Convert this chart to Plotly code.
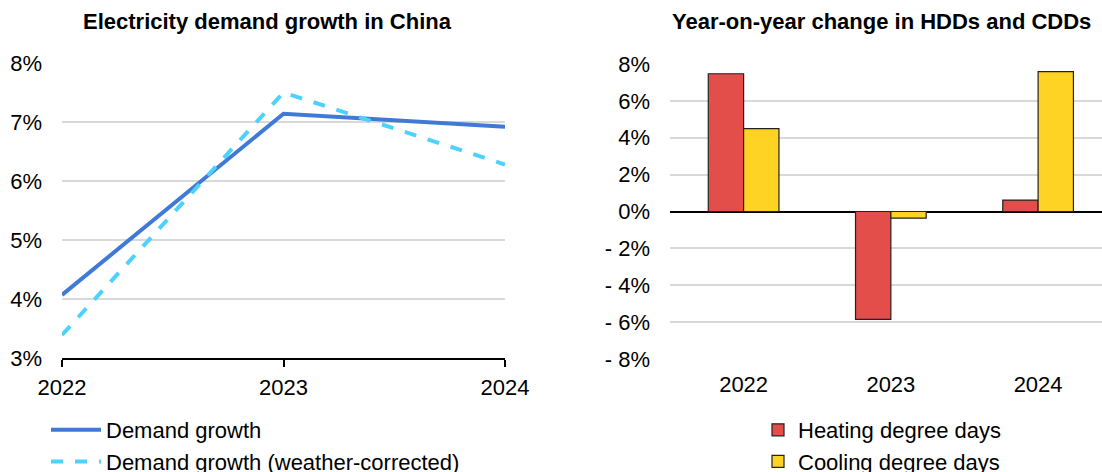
import plotly.graph_objects as go

years = [2022, 2023, 2024]
year_labels = ["2022", "2023", "2024"]
demand_growth = [4.07, 7.14, 6.92]
demand_growth_wc = [3.39, 7.50, 6.28]
hdd_change = [7.47, -5.85, 0.62]
cdd_change = [4.49, -0.36, 7.59]

left_ticks = [3, 4, 5, 6, 7, 8]
left_ticktext = ["3%", "4%", "5%", "6%", "7%", "8%"]
right_ticks = [-8, -6, -4, -2, 0, 2, 4, 6, 8]
right_ticktext = ["- 8%", "- 6%", "- 4%", "- 2%", "0%", "2%", "4%", "6%", "8%"]

W, H = 1102, 472
FONT = "Liberation Sans, Arial, sans-serif"
TICK_SIZE = 22

fig = go.Figure()

fig.add_trace(go.Scatter(
    x=years, y=demand_growth, mode="lines", name="Demand growth",
    line=dict(color="#3F7AD6", width=4), xaxis="x", yaxis="y", legend="legend",
))
fig.add_trace(go.Scatter(
    x=years, y=demand_growth_wc, mode="lines", name="Demand growth (weather-corrected)",
    line=dict(color="#4DD2FF", width=4, dash="dash"), xaxis="x", yaxis="y", legend="legend",
))
fig.add_trace(go.Bar(
    x=year_labels, y=hdd_change, name="Heating degree days",
    marker=dict(color="#E34D4A", line=dict(color="#222222", width=1.2)),
    xaxis="x2", yaxis="y2", legend="legend2",
))
fig.add_trace(go.Bar(
    x=year_labels, y=cdd_change, name="Cooling degree days",
    marker=dict(color="#FFD324", line=dict(color="#222222", width=1.2)),
    xaxis="x2", yaxis="y2", legend="legend2",
))

def px_x(p):
    return p / W

def px_y(p):
    return 1 - p / H

fig.update_layout(
    width=W, height=H,
    margin=dict(l=0, r=0, t=0, b=0, autoexpand=False),
    paper_bgcolor="white", plot_bgcolor="white",
    font=dict(family=FONT, size=TICK_SIZE, color="black"),
    barmode="group", bargap=0.52, bargroupgap=0,
    xaxis=dict(
        domain=[px_x(62), px_x(505)], range=[2022, 2024],
        tickvals=years, ticktext=year_labels,
        showgrid=False, showline=True, linecolor="black", linewidth=1.5,
        ticks="outside", ticklen=7, tickcolor="black", tickwidth=1.5,
        zeroline=False, anchor="y", fixedrange=True, automargin=False,
        ticklabelstandoff=2,
    ),
    yaxis=dict(
        domain=[px_y(358), px_y(63)], range=[3, 8],
        tickvals=left_ticks, ticktext=left_ticktext,
        showgrid=True, gridcolor="#D9D9D9", gridwidth=1.5,
        showline=False, zeroline=False, ticks="", ticklabelstandoff=19,
        anchor="x", automargin=False,
    ),
    xaxis2=dict(
        domain=[px_x(670), 1.0], range=[-0.5, 2.434],
        type="category", showgrid=False, showline=False, zeroline=False,
        ticks="", anchor="y2", ticklabelstandoff=10, automargin=False,
    ),
    yaxis2=dict(
        domain=[px_y(359), px_y(64)], range=[-8, 8],
        tickvals=right_ticks, ticktext=right_ticktext,
        showgrid=True, gridcolor="#D9D9D9", gridwidth=1.5,
        zeroline=True, zerolinecolor="black", zerolinewidth=1.5,
        showline=False, ticks="", ticklabelstandoff=19, anchor="x2",
        automargin=False,
    ),
    legend=dict(
        x=px_x(46), y=px_y(409), xanchor="left", yanchor="top",
        font=dict(family=FONT, size=TICK_SIZE, color="black"),
        bgcolor="rgba(0,0,0,0)", tracegroupgap=0, itemwidth=50,
    ),
    legend2=dict(
        x=px_x(758), y=px_y(409), xanchor="left", yanchor="top",
        font=dict(family=FONT, size=TICK_SIZE, color="black"),
        bgcolor="rgba(0,0,0,0)", tracegroupgap=0, itemwidth=30,
    ),
    showlegend=True,
    annotations=[
        dict(text="<b>Electricity demand growth in China</b>", x=px_x(267), y=px_y(22),
             xref="paper", yref="paper", xanchor="center", yanchor="middle",
             showarrow=False, font=dict(family=FONT, size=22, color="black")),
        dict(text="<b>Year-on-year change in HDDs and CDDs</b>", x=px_x(881), y=px_y(22),
             xref="paper", yref="paper", xanchor="center", yanchor="middle",
             showarrow=False, font=dict(family=FONT, size=22, color="black")),
    ],
)

fig.write_html(
    "out.html",
    config={"displayModeBar": False},
    post_script="document.body.style.margin='0';document.body.style.overflow='hidden';",
)
